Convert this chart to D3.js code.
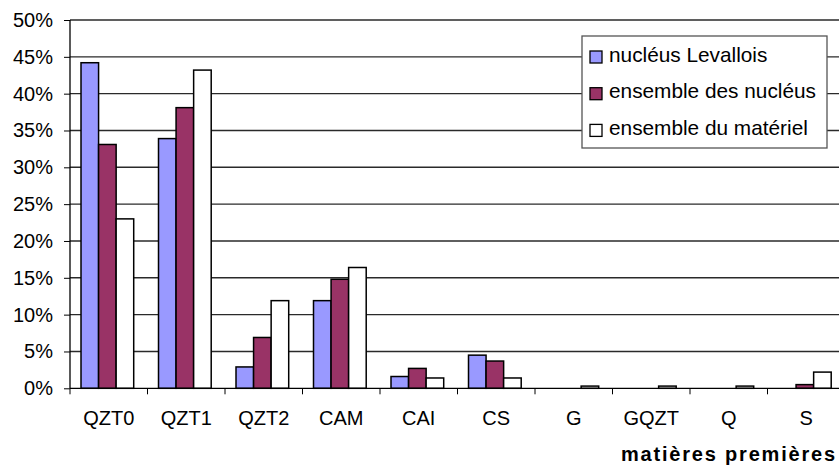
<!DOCTYPE html>
<html>
<head>
<meta charset="utf-8">
<script src="https://cdn.jsdelivr.net/npm/d3@7"></script>
<style>
html,body{margin:0;padding:0;background:#fff;overflow:hidden;}
svg{display:block;font-family:"Liberation Sans",Arial,sans-serif;}
</style>
</head>
<body>
<svg id="chart" width="839" height="465"></svg>
<script>
const categories = ["QZT0","QZT1","QZT2","CAM","CAI","CS","G","GQZT","Q","S"];
const seriesNames = ["nucléus Levallois","ensemble des nucléus","ensemble du matériel"];
const levallois = [0.442,0.339,0.029,0.119,0.016,0.045,0,0,0,0];
const nucleus   = [0.331,0.381,0.069,0.148,0.027,0.037,0,0,0,0.005];
const materiel  = [0.230,0.432,0.119,0.164,0.014,0.014,0.003,0.003,0.003,0.022];
const yTicks = [0,0.05,0.10,0.15,0.20,0.25,0.30,0.35,0.40,0.45,0.50];
const xTitle = "matières premières";
const colors = ["#9999FF","#993366","#FFFFFF"];

(function(){
const series = [levallois, nucleus, materiel];
const svg = d3.select("#chart");
const mLeft = 70, mRight = 845, mTop = 20, mBottom = 388.3;

const x = d3.scaleBand().domain(categories).range([mLeft, mRight]).padding(0);
const bw = x.bandwidth();
const xs = d3.scaleBand().domain(d3.range(3)).range([bw*0.142, bw*0.822]).padding(0);
const y = d3.scaleLinear().domain([0,0.5]).range([mBottom, mTop]);

// gridlines
svg.append("g").selectAll("line").data(yTicks.filter(d=>d>0)).join("line")
  .attr("x1", mLeft).attr("x2", 839)
  .attr("y1", d=>y(d)).attr("y2", d=>y(d))
  .attr("stroke", "#2a2a2a").attr("stroke-width", 1.4);

// bars
const groups = svg.append("g").selectAll("g").data(categories).join("g")
  .attr("transform", d=>`translate(${x(d)},0)`);
groups.selectAll("rect").data((c,i)=>series.map((s,k)=>({k, v:s[i]})).filter(d=>d.v>0)).join("rect")
  .attr("x", d=>xs(d.k)).attr("width", xs.bandwidth())
  .attr("y", d=>y(d.v)).attr("height", d=>mBottom - y(d.v))
  .attr("fill", d=>colors[d.k]).attr("stroke", "#000").attr("stroke-width", 1.5);

// left axis
const yAxis = d3.axisLeft(y).tickValues(yTicks).tickFormat(d3.format(".0%")).tickSize(6).tickPadding(11);
const ga = svg.append("g").attr("transform", `translate(${mLeft},0)`).call(yAxis);
ga.select(".domain").attr("stroke","#000").attr("stroke-width",1.3).attr("d", `M0,${mTop}V${mBottom}`);
ga.selectAll(".tick line").attr("stroke","#000");
ga.selectAll(".tick text").attr("font-size", 20).attr("fill","#000")
  .attr("font-family","Liberation Sans, Arial, sans-serif");

// bottom axis
svg.append("line").attr("x1", mLeft).attr("x2", 839).attr("y1", mBottom).attr("y2", mBottom)
  .attr("stroke","#000").attr("stroke-width",1.3);
const bTicks = categories.map(c=>x(c)).concat([mRight]);
svg.append("g").selectAll("line").data(bTicks).join("line")
  .attr("x1", d=>d).attr("x2", d=>d).attr("y1", mBottom).attr("y2", mBottom+6)
  .attr("stroke","#000").attr("stroke-width",1);
svg.append("g").selectAll("text").data(categories).join("text")
  .attr("x", d=>x(d)+bw/2).attr("y", 424.5)
  .attr("text-anchor","middle").attr("font-size",20).attr("fill","#000")
  .text(d=>d);

// axis title
svg.append("text").attr("x", 621).attr("y", 460.5)
  .attr("font-size", 20).attr("font-weight","bold").attr("letter-spacing", 1.8)
  .attr("fill","#000").text(xTitle);

// legend
const lg = svg.append("g");
lg.append("rect").attr("x", 582).attr("y", 36).attr("width", 245).attr("height", 112)
  .attr("fill","#fff").attr("stroke","#555").attr("stroke-width",1.3);
const items = lg.selectAll("g.it").data(seriesNames).join("g").attr("class","it")
  .attr("transform", (d,i)=>`translate(0,${i*36.7})`);
items.append("rect").attr("x", 590).attr("y", 51).attr("width", 12).attr("height", 12)
  .attr("fill", (d,i)=>colors[i]).attr("stroke","#000").attr("stroke-width",1.3);
items.append("text").attr("x", 609).attr("y", 61.5).attr("font-size", 20.8).attr("fill","#000")
  .text(d=>d);
})();
</script>
</body>
</html>
